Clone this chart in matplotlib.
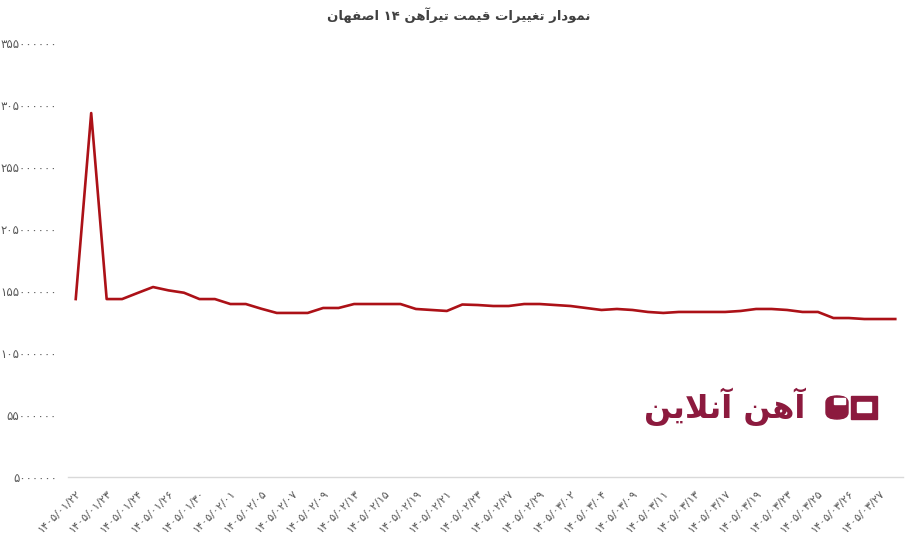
"""
Line chart: price changes of 14 beam (tirahan) in Isfahan.
"""

import re
import matplotlib
matplotlib.use("Agg")
import matplotlib.pyplot as plt
from matplotlib.ticker import FixedLocator, FuncFormatter
from matplotlib.patches import FancyBboxPatch, Rectangle

# ============================== data =========================================

TITLE = "نمودار تغییرات قیمت تیرآهن ۱۴ اصفهان"
LOGO = "آهن آنلاین"

# one label for every second point (the rest are hidden, as in the source)
date_labels = [
    "1405/01/22", "1405/01/23", "1405/01/24", "1405/01/26", "1405/01/30",
    "1405/02/01", "1405/02/05", "1405/02/07", "1405/02/09", "1405/02/13",
    "1405/02/15", "1405/02/19", "1405/02/21", "1405/02/23", "1405/02/27",
    "1405/02/29", "1405/03/02", "1405/03/04", "1405/03/09", "1405/03/11",
    "1405/03/13", "1405/03/17", "1405/03/19", "1405/03/23", "1405/03/25",
    "1405/03/26", "1405/03/27",
]

# price in millions of rials
price_m = [
    148.5, 298.5, 148.5, 148.5, 153.4, 158.2, 155.5, 153.6, 148.5, 148.5,
    144.5, 144.5, 140.7, 137.3, 137.3, 137.3, 141.3, 141.3, 144.5, 144.5,
    144.5, 144.5, 140.5, 139.7, 138.9, 144.1, 143.7, 142.9, 142.9, 144.5,
    144.5, 143.7, 142.9, 141.3, 139.7, 140.5, 139.7, 138.1, 137.3, 138.1,
    138.1, 138.1, 138.1, 138.9, 140.5, 140.5, 139.7, 138.1, 138.1, 133.2,
    133.2, 132.4, 132.4, 132.4,
]

y_ticks_m = [5, 55, 105, 155, 205, 255, 305, 355]

# ============================== helpers ======================================

FA_DIGITS = str.maketrans("0123456789", "۰۱۲۳۴۵۶۷۸۹")

FORMS = {
    "ا": ("\uFE8D", "\uFE8E"),
    "آ": ("\uFE81", "\uFE82"),
    "د": ("\uFEA9", "\uFEAA"),
    "ر": ("\uFEAD", "\uFEAE"),
    "و": ("\uFEED", "\uFEEE"),
    "ت": ("\uFE95", "\uFE96", "\uFE97", "\uFE98"),
    "ن": ("\uFEE5", "\uFEE6", "\uFEE7", "\uFEE8"),
    "م": ("\uFEE1", "\uFEE2", "\uFEE3", "\uFEE4"),
    "غ": ("\uFECD", "\uFECE", "\uFECF", "\uFED0"),
    "ی": ("\uFBFC", "\uFBFD", "\uFBFE", "\uFBFF"),
    "ق": ("\uFED5", "\uFED6", "\uFED7", "\uFED8"),
    "ه": ("\uFEE9", "\uFEEA", "\uFEEB", "\uFEEC"),
    "ص": ("\uFEB9", "\uFEBA", "\uFEBB", "\uFEBC"),
    "ف": ("\uFED1", "\uFED2", "\uFED3", "\uFED4"),
    "ل": ("\uFEDD", "\uFEDE", "\uFEDF", "\uFEE0"),
}
LAM_ALEF = {"ا": ("\uFEFB", "\uFEFC"), "آ": ("\uFEF5", "\uFEF6")}


def shape(text):
    # matplotlib has no arabic shaping, so pick the presentation forms by hand
    units = []
    i = 0
    while i < len(text):
        c = text[i]
        if c == "ل" and i + 1 < len(text) and text[i + 1] in LAM_ALEF:
            units.append(LAM_ALEF[text[i + 1]])
            i += 2
        else:
            units.append(FORMS.get(c, c))
            i += 1
    out = []
    for k, u in enumerate(units):
        if isinstance(u, str):
            out.append(u)
            continue
        prev = units[k - 1] if k > 0 else None
        nxt = units[k + 1] if k + 1 < len(units) else None
        join_prev = isinstance(prev, tuple) and len(prev) == 4
        join_next = len(u) == 4 and isinstance(nxt, tuple)
        idx = {(False, False): 0, (True, False): 1,
               (False, True): 2, (True, True): 3}[(join_prev, join_next)]
        out.append(u[idx])
    return "".join(out)


def rtl(text):
    s = shape(text)
    runs = re.findall(r"[۰-۹]+|[^۰-۹]+", s)
    return "".join(r if r[0] in "۰۱۲۳۴۵۶۷۸۹" else r[::-1] for r in reversed(runs))


# ============================== main =========================================

def main():
    plt.rcParams["font.family"] = ["DejaVu Sans"]

    fig = plt.figure(figsize=(9.19, 5.38), dpi=100)
    ax = fig.add_axes([68 / 919, 1 - 477 / 538, (903 - 68) / 919, (477 - 43) / 538])

    x = list(range(len(price_m)))
    ax.plot(x, price_m, color="#AC1117", linewidth=1.9, solid_joinstyle="round")

    ax.set_xlim(-0.5, len(price_m) - 0.5)
    ax.set_ylim(y_ticks_m[0], y_ticks_m[-1])

    ax.yaxis.set_major_locator(FixedLocator(y_ticks_m))
    ax.yaxis.set_major_formatter(
        FuncFormatter(lambda v, p: str(int(round(v * 1000000))).translate(FA_DIGITS)))
    ax.tick_params(axis="y", length=0, pad=8, labelsize=8.5, labelcolor="#595959")

    ax.set_xticks(x[::2])
    ax.set_xticklabels([d.translate(FA_DIGITS) for d in date_labels],
                       rotation=45, ha="right", va="top", rotation_mode="anchor")
    ax.tick_params(axis="x", length=0, pad=8, labelsize=8, labelcolor="#595959")

    for side in ["top", "right", "left"]:
        ax.spines[side].set_visible(False)
    ax.spines["bottom"].set_color("#D9D9D9")
    ax.spines["bottom"].set_linewidth(1.0)

    fig.text(459 / 919, 1 - 15 / 538, rtl(TITLE), ha="center", va="center",
             fontsize=9.5, fontweight="bold", color="#404040")

    # watermark logo
    logo_color = "#8C1A3E"
    fig.text(725 / 919, 1 - 407 / 538, rtl(LOGO), ha="center", va="center",
             fontsize=23, fontweight="bold", color=logo_color)
    fig.patches.append(FancyBboxPatch((826 / 919, 1 - 419 / 538), 22 / 919, 23 / 538,
                                      boxstyle="round,pad=0,rounding_size=0.012",
                                      transform=fig.transFigure, color=logo_color))
    fig.patches.append(Rectangle((834 / 919, 1 - 404 / 538), 11 / 919, 6 / 538,
                                 transform=fig.transFigure, color="white"))
    fig.patches.append(Rectangle((851 / 919, 1 - 419 / 538), 26 / 919, 23 / 538,
                                 transform=fig.transFigure, color=logo_color))
    fig.patches.append(Rectangle((857 / 919, 1 - 412 / 538), 14 / 919, 10 / 538,
                                 transform=fig.transFigure, color="white"))

    plt.savefig("out.png", dpi=100)


if __name__ == "__main__":
    main()
